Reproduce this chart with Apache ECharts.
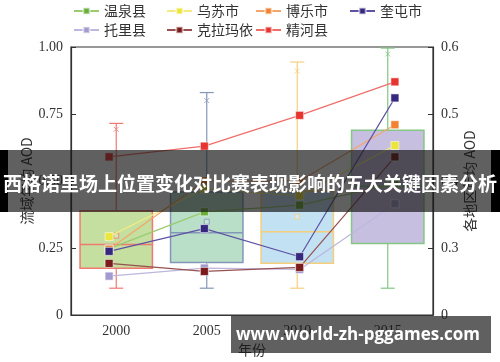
<!DOCTYPE html>
<html><head><meta charset="utf-8">
<script src="https://cdn.jsdelivr.net/npm/echarts@6/dist/echarts.min.js"></script>
<style>html,body{margin:0;padding:0;background:#fff}#c{width:500px;height:362px}</style>
</head><body><div id="c"></div>
<script>
// ---- data ----
var years = ['2000', '2005', '2010', '2015'];
var lineYears = [2000, 2005, 2010, 2015];
// box plot values (left axis): [min, Q1, median, Q3, max]
var boxMin    = [0.10, 0.10, 0.10, 0.10];
var boxQ1     = [0.174, 0.196, 0.193, 0.267];
var boxMedian = [0.263, 0.307, 0.311, 0.48];
var boxQ3     = [0.389, 0.459, 0.463, 0.689];
var boxMax    = [0.715, 0.83, 0.944, 0.996];
var boxMean   = [0.296, 0.348, 0.367, 0.50];
var boxHigh   = [0.693, 0.80, 0.91, 0.974];
// regional series (right axis)
var names = ['温泉县', '乌苏市', '博乐市', '奎屯市', '托里县', '克拉玛依', '精河县'];
var wenquan  = [0.299, 0.354, 0.364, 0.396];
var wusu     = [0.317, 0.388, 0.378, 0.453];
var bole     = [0.298, 0.400, 0.400, 0.484];
var kuitun   = [0.295, 0.329, 0.287, 0.524];
var tuoli    = [0.258, 0.270, 0.268, 0.366];
var kelamayi = [0.277, 0.265, 0.271, 0.436];
var jinghe   = [0.436, 0.452, 0.498, 0.548];
var leftTickLabels = ['0', '0.25', '0.50', '0.75', '1.00'];
var rightTickLabels = ['0', '0.3', '0.4', '0.5', '0.6'];
var titleText = '西格诺里场上位置变化对比赛表现影响的五大关键因素分析';
var watermarkText = 'www.world-zh-pggames.com';

// ---- styles ----
var boxStyles = [
  {fill: '#c4df9f', line: '#f07a72'},
  {fill: '#b9dfc9', line: '#8398b8'},
  {fill: '#c2e1f3', line: '#f6cf7c'},
  {fill: '#c7bfe0', line: '#84c784'}
];
var seriesColors = ['#6aaf3a', '#ece63a', '#f08232', '#35287e', '#a39bcd', '#7a1c1c', '#e83430'];
var lineColors   = ['#9acb6e', '#f2ec80', '#f4a66a', '#5e52a2', '#bdb6de', '#985050', '#f06e6a'];
var seriesData = [wenquan, wusu, bole, kuitun, tuoli, kelamayi, jinghe];

var serif = '"Liberation Serif", "DejaVu Serif", serif';
var cjk = '"Noto Sans CJK SC", sans-serif';

var boxData = years.map(function (y, i) {
  return [i, boxMin[i], boxQ1[i], boxMedian[i], boxQ3[i], boxMax[i]];
});

function renderBox(params, api) {
  var idx = api.value(0);
  var pMin = api.coord([idx, api.value(1)]);
  var pQ1 = api.coord([idx, api.value(2)]);
  var pMed = api.coord([idx, api.value(3)]);
  var pQ3 = api.coord([idx, api.value(4)]);
  var pMax = api.coord([idx, api.value(5)]);
  var bw = api.size([1, 0])[0] * 0.8;
  var x = pMin[0];
  var st = boxStyles[idx];
  var cap = 7;
  var ls = {stroke: st.line, lineWidth: 1.2};
  return {type: 'group', children: [
    {type: 'line', shape: {x1: x, y1: pMax[1], x2: x, y2: pMin[1]}, style: ls},
    {type: 'line', shape: {x1: x - cap, y1: pMax[1], x2: x + cap, y2: pMax[1]}, style: ls},
    {type: 'line', shape: {x1: x - cap, y1: pMin[1], x2: x + cap, y2: pMin[1]}, style: ls},
    {type: 'rect', shape: {x: x - bw / 2, y: pQ3[1], width: bw, height: pQ1[1] - pQ3[1]},
      style: {fill: st.fill, stroke: st.line, lineWidth: 1.5}},
    {type: 'line', shape: {x1: x - bw / 2, y1: pMed[1], x2: x + bw / 2, y2: pMed[1]},
      style: {stroke: st.line, lineWidth: 1.5}}
  ]};
}

var series = [
  {type: 'custom', xAxisIndex: 0, yAxisIndex: 0, renderItem: renderBox, data: boxData,
   encode: {x: 0, y: [1, 2, 3, 4, 5]}, silent: true, z: 1},
  {type: 'scatter', xAxisIndex: 0, yAxisIndex: 0, symbol: 'rect', symbolSize: 5, z: 2, silent: true,
   data: years.map(function (y, i) {
     return {value: [i, boxMean[i]], itemStyle: {color: 'rgba(255,255,255,0.3)', borderColor: boxStyles[i].line, borderWidth: 1}};
   })},
  {type: 'scatter', xAxisIndex: 0, yAxisIndex: 0, symbol: 'path://M0,0L10,10M10,0L0,10', symbolSize: 5, z: 2, silent: true,
   data: years.map(function (y, i) {
     return {value: [i, boxHigh[i]], itemStyle: {color: 'none', borderColor: boxStyles[i].line, borderWidth: 1}};
   })}
];
names.forEach(function (n, k) {
  series.push({
    name: n, type: 'line', xAxisIndex: 1, yAxisIndex: 1, z: 3,
    symbol: 'rect', symbolSize: 8,
    itemStyle: {color: seriesColors[k], borderColor: 'rgba(255,255,255,0.55)', borderWidth: 1},
    lineStyle: {color: lineColors[k], width: 1.2},
    data: lineYears.map(function (y, i) { return [y, seriesData[k][i]]; })
  });
});

function legendCol(left, data) {
  return {orient: 'vertical', left: left, top: 4, padding: 0, itemGap: 5,
    itemWidth: 25, itemHeight: 8, data: data,
    textStyle: {fontFamily: cjk, fontSize: 14, color: '#333'}};
}

var chart = echarts.init(document.getElementById('c'), null, {renderer: 'canvas'});
chart.setOption({
  animation: false,
  backgroundColor: '#fff',
  grid: {left: 71, right: 67, top: 47, bottom: 45, show: true, borderColor: '#333', borderWidth: 1.2},
  legend: [
    legendCol(73, [names[0], names[4]]),
    legendCol(166, [names[1], names[5]]),
    legendCol(255, [names[2], names[6]]),
    legendCol(349, [names[3]])
  ],
  xAxis: [
    {type: 'category', data: years, boundaryGap: true,
     name: '年份', nameLocation: 'middle', nameGap: 28, nameMoveOverlap: false,
     nameTextStyle: {fontFamily: cjk, fontSize: 14, color: '#333'},
     axisLine: {lineStyle: {color: '#333', width: 1.2}},
     axisTick: {alignWithLabel: true, inside: true, length: 5, lineStyle: {color: '#333'}},
     axisLabel: {fontFamily: serif, fontSize: 14, color: '#333', margin: 9}},
    {type: 'value', min: 1998, max: 2017, show: false}
  ],
  yAxis: [
    {type: 'value', min: 0, max: 1, interval: 0.25, position: 'left',
     name: '流域年均 AOD', nameLocation: 'middle', nameGap: 37, nameRotate: 90, nameMoveOverlap: false,
     nameTextStyle: {fontFamily: cjk, fontSize: 14, color: '#333'},
     axisLine: {show: true, lineStyle: {color: '#333', width: 1.2}},
     axisTick: {show: true, inside: true, length: 5, lineStyle: {color: '#333'}},
     splitLine: {show: false},
     axisLabel: {fontFamily: serif, fontSize: 14, color: '#333', margin: 8,
       formatter: function (v) { return leftTickLabels[Math.round(v / 0.25)]; }}},
    {type: 'value', min: 0.2, max: 0.6, interval: 0.1, position: 'right',
     name: '各地区年均 AOD', nameLocation: 'middle', nameGap: 30, nameRotate: 90, nameMoveOverlap: false,
     nameTextStyle: {fontFamily: cjk, fontSize: 14, color: '#333'},
     axisLine: {show: true, lineStyle: {color: '#333', width: 1.2}},
     axisTick: {show: true, inside: true, length: 5, lineStyle: {color: '#333'}},
     splitLine: {show: false},
     axisLabel: {fontFamily: serif, fontSize: 14, color: '#333', margin: 8,
       formatter: function (v) { return rightTickLabels[Math.round((v - 0.2) / 0.1)]; }}}
  ],
  series: series,
  graphic: [
    {type: 'rect', z: 100, shape: {x: 0, y: 150, width: 500, height: 62}, style: {fill: 'rgba(20,20,20,0.68)'}},
    {type: 'rect', z: 100, shape: {x: 0, y: 150, width: 8, height: 62}, style: {fill: '#000'}},
    {type: 'rect', z: 100, shape: {x: 491, y: 150, width: 9, height: 62}, style: {fill: '#000'}},
    {type: 'text', z: 101, x: 250, y: 184, style: {text: titleText, fill: '#fff', font: 'bold 19px "Noto Sans CJK SC", sans-serif',
      textAlign: 'center', textVerticalAlign: 'middle'}},
    {type: 'rect', z: 100, shape: {x: 231, y: 316, width: 260, height: 37}, style: {fill: 'rgba(20,20,20,0.68)'}},
    {type: 'text', z: 101, x: 358, y: 335, style: {text: watermarkText, fill: '#fff', font: 'bold 17px "Open Sans", sans-serif',
      textAlign: 'center', textVerticalAlign: 'middle'}}
  ]
});
</script></body></html>
